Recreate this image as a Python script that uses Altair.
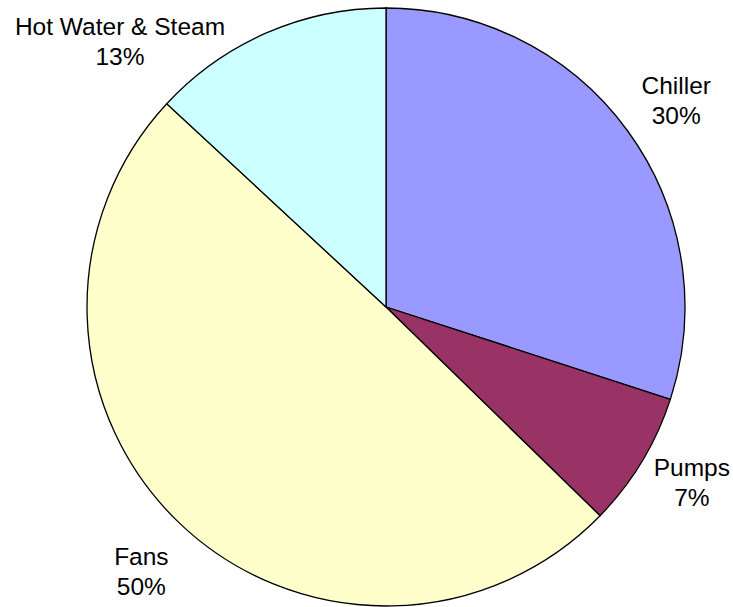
import altair as alt
import pandas as pd

categories = ["Chiller", "Pumps", "Fans", "Hot Water & Steam"]
values = [30.0, 7.3, 49.6, 13.1]
percents = ["30%", "7%", "50%", "13%"]
colors = ["#9999FF", "#993366", "#FFFFCC", "#CCFFFF"]
order = [0, 1, 2, 3]

df = pd.DataFrame({"category": categories, "value": values, "pct": percents, "order": order})

theta_scale = alt.Scale(domain=[0, 100])

arcs = alt.Chart(df).mark_arc(radius=299, stroke="black", strokeWidth=1.3).encode(
    theta=alt.Theta("value:Q", stack=True, scale=theta_scale),
    order=alt.Order("order:Q"),
    color=alt.Color("category:N", scale=alt.Scale(domain=categories, range=colors), legend=None),
)

base = alt.Chart(df).transform_window(
    cum="sum(value)", sort=[alt.SortField("order")], frame=[None, 0]
).transform_calculate(
    mid="datum.cum - datum.value / 2",
    label="datum.category + '\\n' + datum.pct",
)

text_style = dict(font="Liberation Sans", fontSize=24.5, lineBreak="\n", lineHeight=30,
                  align="center", baseline="middle", color="black", radius=355)

# label nudges (dx, dy) relative to the slice mid-angle position
nudges = {"Chiller": (3, -11), "Pumps": (2, -22), "Fans": (0, -6), "Hot Water & Steam": (-124, 46)}

layers = [arcs]
for cat in categories:
    ndx, ndy = nudges[cat]
    layers.append(
        base.transform_filter(alt.datum.category == cat).mark_text(dx=ndx, dy=ndy, **text_style).encode(
            theta=alt.Theta("mid:Q", stack=False, scale=theta_scale),
            text="label:N",
        )
    )

chart = alt.layer(*layers).properties(
    width=694, height=600,
    padding={"left": 39, "top": 7, "right": 0, "bottom": 0},
    autosize=alt.AutoSizeParams(type="none"),
).configure_view(stroke=None)

chart.save("out.html", embed_options={"renderer": "svg", "actions": False})
